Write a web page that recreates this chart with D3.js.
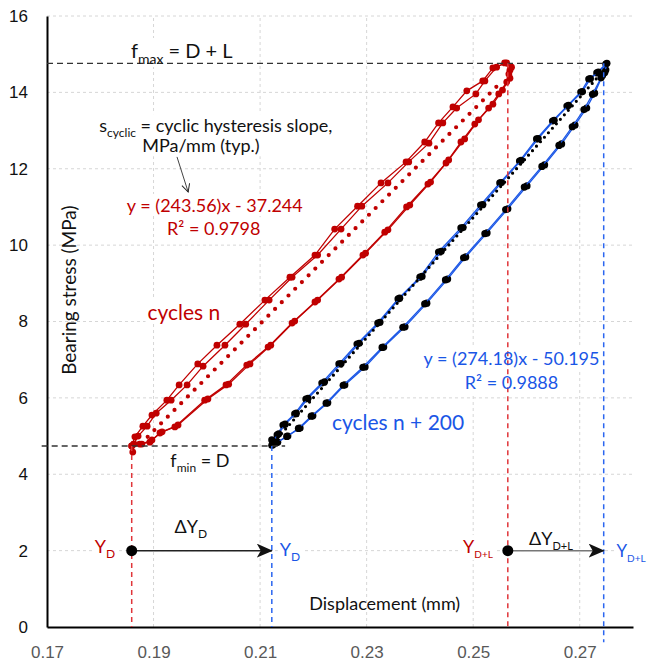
<!DOCTYPE html>
<html>
<head>
<meta charset="utf-8">
<script src="https://cdn.jsdelivr.net/npm/d3@7"></script>
<style>
  body { margin: 0; background: #fff; }
  svg { font-family: Lato, "Open Sans", sans-serif; }
</style>
</head>
<body>
<div id="chart"></div>
<script>
const redColor = "#c00000"
const blueColor = "#1a56e6"
const redDash = "#e0353a"
const blueDash = "#2b66f0"

const xTicks = [0.17, 0.19, 0.21, 0.23, 0.25, 0.27]
const yTicks = [0, 2, 4, 6, 8, 10, 12, 14, 16]

// cycles n (two recorded loops), [displacement mm, stress MPa]
const redCycle1 = [
  [0.1861, 4.58], [0.1859, 4.74], [0.1865, 4.98], [0.1880, 5.26], [0.1897, 5.55], [0.1925, 5.94],
  [0.1948, 6.34], [0.1983, 6.89], [0.2019, 7.38], [0.2062, 7.93], [0.2109, 8.56],
  [0.2156, 9.16], [0.2203, 9.74], [0.2240, 10.42], [0.2283, 11.02], [0.2327, 11.63],
  [0.2374, 12.18], [0.2409, 12.70], [0.2435, 13.20], [0.2462, 13.62], [0.2488, 14.04],
  [0.2518, 14.30], [0.2537, 14.64], [0.2563, 14.77],
  [0.2572, 14.66], [0.2567, 14.48], [0.2563, 14.27], [0.2548, 13.96], [0.2529, 13.59],
  [0.2503, 13.17], [0.2477, 12.70], [0.2449, 12.15], [0.2415, 11.60], [0.2375, 11.00],
  [0.2334, 10.34], [0.2293, 9.74], [0.2248, 9.11], [0.2203, 8.51], [0.2160, 7.96],
  [0.2115, 7.33], [0.2075, 6.86], [0.2036, 6.34], [0.1996, 5.94], [0.1940, 5.24],
  [0.1912, 5.08], [0.1893, 4.84], [0.1874, 4.79], [0.1859, 4.74]
]
const redCycle2 = [
  [0.1863, 4.79], [0.1871, 5.00], [0.1888, 5.26], [0.1905, 5.60], [0.1933, 5.94],
  [0.1963, 6.34], [0.1993, 6.83], [0.2034, 7.38], [0.2073, 7.93], [0.2117, 8.56],
  [0.2160, 9.16], [0.2208, 9.74], [0.2252, 10.42], [0.2291, 11.02], [0.2340, 11.63],
  [0.2379, 12.18], [0.2417, 12.67], [0.2443, 13.20], [0.2469, 13.59], [0.2505, 13.96],
  [0.2522, 14.30], [0.2544, 14.66], [0.2559, 14.77],
  [0.2569, 14.58], [0.2569, 14.37], [0.2555, 14.06], [0.2537, 13.69], [0.2510, 13.28],
  [0.2484, 12.78], [0.2454, 12.23], [0.2420, 11.65], [0.2381, 11.05], [0.2340, 10.40],
  [0.2298, 9.79], [0.2253, 9.16], [0.2208, 8.56], [0.2165, 8.01], [0.2120, 7.38],
  [0.2081, 6.89], [0.2041, 6.36], [0.2002, 5.97], [0.1946, 5.29], [0.1916, 5.11],
  [0.1897, 4.90], [0.1878, 4.79], [0.1863, 4.79]
]
// cycles n + 200
const blueCycle1 = [
  [0.2122, 4.90], [0.2132, 5.03], [0.2143, 5.29], [0.2165, 5.58], [0.2186, 5.97],
  [0.2216, 6.39], [0.2248, 6.89], [0.2282, 7.41], [0.2321, 7.96], [0.2359, 8.59],
  [0.2400, 9.16], [0.2435, 9.82], [0.2477, 10.45], [0.2514, 11.05], [0.2550, 11.63],
  [0.2587, 12.20], [0.2619, 12.78], [0.2649, 13.25], [0.2676, 13.64], [0.2702, 14.01],
  [0.2717, 14.35], [0.2732, 14.51], [0.2749, 14.74],
  [0.2749, 14.59], [0.2743, 14.45], [0.2728, 13.98], [0.2713, 13.59], [0.2691, 13.14],
  [0.2666, 12.65], [0.2634, 12.10], [0.2601, 11.55], [0.2565, 10.95], [0.2526, 10.32],
  [0.2486, 9.69], [0.2452, 9.11], [0.2413, 8.48], [0.2372, 7.86], [0.2332, 7.33],
  [0.2297, 6.81], [0.2259, 6.34], [0.2227, 5.87], [0.2199, 5.53], [0.2175, 5.21],
  [0.2152, 5.00], [0.2133, 4.84], [0.2124, 4.77]
]
const blueCycle2 = [
  [0.2124, 4.87], [0.2135, 5.06], [0.2147, 5.31], [0.2168, 5.60], [0.2190, 5.99],
  [0.2221, 6.42], [0.2252, 6.90], [0.2286, 7.43], [0.2325, 7.98], [0.2362, 8.61],
  [0.2404, 9.18], [0.2440, 9.84], [0.2481, 10.46], [0.2518, 11.06], [0.2553, 11.64],
  [0.2590, 12.22], [0.2622, 12.79], [0.2652, 13.27], [0.2679, 13.66], [0.2705, 14.02],
  [0.2720, 14.36], [0.2735, 14.53], [0.2751, 14.76],
  [0.2747, 14.52], [0.2740, 14.38], [0.2724, 13.95], [0.2708, 13.55], [0.2686, 13.10],
  [0.2661, 12.61], [0.2629, 12.06], [0.2596, 11.52], [0.2561, 10.93], [0.2522, 10.30],
  [0.2482, 9.67], [0.2448, 9.09], [0.2409, 8.46], [0.2368, 7.85], [0.2329, 7.32],
  [0.2293, 6.80], [0.2256, 6.33], [0.2224, 5.86], [0.2196, 5.52], [0.2172, 5.20],
  [0.2150, 4.99], [0.2131, 4.83], [0.2122, 4.76]
]
// linear trend lines (end points)
const redTrend = [[0.1889, 4.98], [0.2556, 14.32]]
const blueTrend = [[0.2133, 4.95], [0.2739, 14.48]]

const fMax = 14.76
const fMin = 4.74
const yD = { n: 0.1859, n200: 0.2122 }
const yDL = { n: 0.2565, n200: 0.2745 }
const arrowLevel = 2

const width = 648
const height = 663

const svg = d3.select("#chart").append("svg")
  .attr("width", width)
  .attr("height", height)

const x = d3.scaleLinear().domain([0.17, 0.28]).range([47, 633])
const y = d3.scaleLinear().domain([0, 16]).range([627, 16])

const defs = svg.append("defs")
defs.append("marker")
  .attr("id", "stealth")
  .attr("markerUnits", "userSpaceOnUse")
  .attr("markerWidth", 18).attr("markerHeight", 14)
  .attr("refX", 15).attr("refY", 7)
  .attr("orient", "auto")
  .append("path")
    .attr("d", "M0,0 L16,7 L0,14 L4,7 Z")
    .attr("fill", "#111")
defs.append("marker")
  .attr("id", "thin")
  .attr("markerUnits", "userSpaceOnUse")
  .attr("markerWidth", 12).attr("markerHeight", 12)
  .attr("refX", 9).attr("refY", 5)
  .attr("orient", "auto")
  .append("path")
    .attr("d", "M1,1 L9,5 L1,9")
    .attr("fill", "none")
    .attr("stroke", "#222")
    .attr("stroke-width", 1)

// gridlines
const grid = svg.append("g")
  .attr("stroke", "#d6d6d6")
  .attr("stroke-dasharray", "3,3")
  .attr("stroke-width", 1)
grid.selectAll(".gy").data(yTicks.filter(d => d > 0)).join("line")
  .attr("x1", x(0.17)).attr("x2", x(0.28))
  .attr("y1", d => y(d)).attr("y2", d => y(d))
grid.selectAll(".gx").data(xTicks.filter(d => d > 0.17)).join("line")
  .attr("x1", d => x(d)).attr("x2", d => x(d))
  .attr("y1", y(0)).attr("y2", y(16))

const textBg = svg.append("g")

// axes
const yAxis = svg.append("g")
  .attr("transform", `translate(${x(0.17)},0)`)
  .call(d3.axisLeft(y).tickValues(yTicks).tickSize(0).tickPadding(19))
yAxis.select(".domain").attr("stroke", "#000").attr("stroke-width", 2)
yAxis.selectAll("text").style("font-size", "17px").attr("fill", "#111")

const xAxis = svg.append("g")
  .attr("transform", `translate(0,${y(0)})`)
  .call(d3.axisBottom(x).tickValues(xTicks).tickSize(0).tickSizeOuter(0).tickPadding(19)
    .tickFormat(d3.format(".2f")))
xAxis.select(".domain").attr("stroke", "#000").attr("stroke-width", 2)
xAxis.selectAll("text").style("font-size", "17px").attr("fill", "#595959")

// loops
const line = d3.line().x(d => x(d[0])).y(d => y(d[1]))

function drawCycle(data, color, markerFill, r) {
  svg.append("path")
    .attr("d", line(data))
    .attr("fill", "none")
    .attr("stroke", color)
    .attr("stroke-width", 1.3)
  svg.append("g").selectAll("circle").data(data).join("circle")
    .attr("cx", d => x(d[0]))
    .attr("cy", d => y(d[1]))
    .attr("r", r)
    .attr("fill", markerFill)
}
drawCycle(redCycle1, redColor, redColor, 3.4)
drawCycle(redCycle2, redColor, redColor, 3.4)
drawCycle(blueCycle1, blueColor, "#000", 3.6)
drawCycle(blueCycle2, blueColor, "#000", 3.6)

svg.append("path")
  .attr("d", line(redTrend))
  .attr("stroke", redColor)
  .attr("stroke-width", 4.2)
  .attr("stroke-linecap", "round")
  .attr("stroke-dasharray", "0,9.5")
svg.append("path")
  .attr("d", line(blueTrend))
  .attr("stroke", "#000")
  .attr("stroke-width", 3.2)
  .attr("stroke-linecap", "round")
  .attr("stroke-dasharray", "0,6")

// reference dashed lines
const refs = svg.append("g").attr("fill", "none")
refs.append("line")
  .attr("x1", x(0.17)).attr("x2", x(0.2751))
  .attr("y1", y(fMax)).attr("y2", y(fMax))
  .attr("stroke", "#333").attr("stroke-width", 1.3).attr("stroke-dasharray", "6,4")
refs.append("line")
  .attr("x1", x(0.169)).attr("x2", x(0.2147))
  .attr("y1", y(fMin)).attr("y2", y(fMin))
  .attr("stroke", "#333").attr("stroke-width", 1.3).attr("stroke-dasharray", "6,4")

function vDash(xv, top, bottom, color) {
  refs.append("line")
    .attr("x1", x(xv)).attr("x2", x(xv))
    .attr("y1", y(top)).attr("y2", y(bottom))
    .attr("stroke", color).attr("stroke-width", 1.5).attr("stroke-dasharray", "5,4")
}
vDash(yD.n, fMin, 0, redDash)
vDash(yD.n200, fMin, 0, blueDash)
vDash(yDL.n, fMax, 0, redDash)
vDash(yDL.n200, fMax, -0.4, blueDash)

// shift arrows
function shiftArrow(from, to, color) {
  svg.append("line")
    .attr("x1", x(from)).attr("x2", x(to))
    .attr("y1", y(arrowLevel)).attr("y2", y(arrowLevel))
    .attr("stroke", color).attr("stroke-width", 1.5)
    .attr("marker-end", "url(#stealth)")
  svg.append("circle")
    .attr("cx", x(from)).attr("cy", y(arrowLevel))
    .attr("r", 5.5).attr("fill", "#000")
}
shiftArrow(yD.n, yD.n200, "#222")
shiftArrow(yDL.n, yDL.n200, "#777")

// s_cyclic pointer
svg.append("line")
  .attr("x1", x(0.1944)).attr("y1", y(12.31))
  .attr("x2", x(0.1965)).attr("y2", y(11.39))
  .attr("stroke", "#444").attr("stroke-width", 1)
  .attr("marker-end", "url(#thin)")

// annotations
const notes = svg.append("g")
function label(xv, yv, parts, opts) {
  const size = opts.size
  const subScale = opts.subScale || 0.68
  const t = notes.append("text")
    .attr("x", x(xv)).attr("y", y(yv))
    .attr("text-anchor", opts.anchor || "middle")
    .attr("fill", opts.color || "#111")
    .style("font-size", size + "px")
  let shifted = 0
  parts.forEach(p => {
    if (typeof p === "string") {
      t.append("tspan").attr("dy", -shifted).text(p)
      shifted = 0
    } else {
      const s = Math.round(size * 0.3)
      t.append("tspan").attr("dy", s - shifted)
        .style("font-size", Math.round(size * subScale) + "px").text(p.sub)
      shifted = s
    }
  })
  if (opts.bg) {
    const b = t.node().getBBox()
    textBg.append("rect")
      .attr("x", b.x - 2).attr("y", b.y).attr("width", b.width + 4).attr("height", b.height)
      .attr("fill", "#fff")
  }
  return t
}

label(0.1953, 14.9, ["f", { sub: "max" }, " = D + L"], { size: 20, bg: true })
label(0.2017, 12.96, ["s", { sub: "cyclic" }, " = cyclic hysteresis slope,"], { size: 18, bg: true })
label(0.1989, 12.43, ["MPa/mm (typ.)"], { size: 18, bg: true })
label(0.2015, 10.87, ["y = (243.56)x - 37.244"], { size: 18, color: redColor, bg: true })
label(0.2013, 10.26, ["R² = 0.9798"], { size: 18, color: redColor, bg: true })
label(0.1957, 8.04, ["cycles n"], { size: 21, color: redColor, bg: true })
label(0.2572, 6.86, ["y = (274.18)x - 50.195"], { size: 18, color: blueColor, bg: true })
label(0.2572, 6.23, ["R² = 0.9888"], { size: 18, color: blueColor, bg: true })
label(0.2359, 5.16, ["cycles n + 200"], { size: 21, color: blueColor, bg: true })
label(0.1987, 4.19, ["f", { sub: "min" }, " = D"], { size: 18, bg: true })
label(0.1970, 2.46, ["ΔY", { sub: "D" }], { size: 18, bg: true })
label(0.2646, 2.15, ["ΔY", { sub: "D+L" }], { size: 18, subScale: 0.6, bg: true })
label(0.1828, 1.94, ["Y", { sub: "D" }], { size: 18, color: redColor, anchor: "end", bg: true })
label(0.2137, 1.86, ["Y", { sub: "D" }], { size: 18, color: blueColor, anchor: "start", bg: true })
label(0.2537, 1.94, ["Y", { sub: "D+L" }], { size: 18, subScale: 0.58, color: redColor, anchor: "end", bg: true })
label(0.2769, 1.84, ["Y", { sub: "D+L" }], { size: 17, subScale: 0.58, color: blueColor, anchor: "start", bg: true })

svg.append("text")
  .attr("x", x(0.2334)).attr("y", y(0.45))
  .attr("text-anchor", "middle")
  .style("font-size", "18px")
  .attr("fill", "#111")
  .text("Displacement (mm)")
svg.append("text")
  .attr("transform", `translate(76,${y(8.82)}) rotate(-90)`)
  .attr("text-anchor", "middle")
  .style("font-size", "19px")
  .attr("fill", "#111")
  .text("Bearing stress (MPa)")
</script>
</body>
</html>
